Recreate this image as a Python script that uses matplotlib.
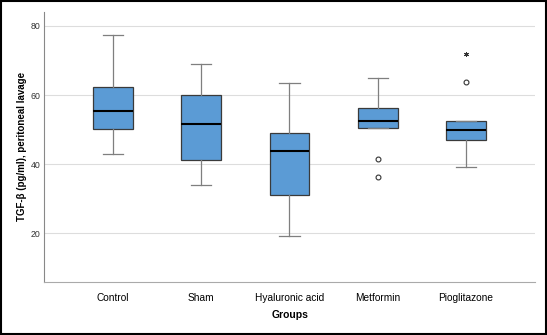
import matplotlib
matplotlib.use("Agg")
import matplotlib.pyplot as plt
from matplotlib.patches import Rectangle

plt.rcParams["font.family"] = ["Liberation Sans", "DejaVu Sans"]

# values
groups = ["Control", "Sham", "Hyaluronic acid", "Metformin", "Pioglitazone"]
whisker_low = [43.0, 34.0, 19.3, 50.6, 39.1]
q1 = [50.2, 41.3, 31.2, 50.6, 47.0]
median = [55.5, 51.7, 43.9, 52.6, 50.0]
q3 = [62.4, 59.9, 49.1, 56.3, 52.4]
whisker_high = [77.5, 69.1, 63.4, 65.0, 52.4]
outliers = [[], [], [], [41.6, 36.2], [63.7]]
extremes = [[], [], [], [], [72.0]]
yticks = [20, 40, 60, 80]

stats = []
for i, g in enumerate(groups):
    stats.append({
        "label": g,
        "whislo": whisker_low[i],
        "q1": q1[i],
        "med": median[i],
        "q3": q3[i],
        "whishi": whisker_high[i],
        "fliers": outliers[i],
    })

fig = plt.figure(figsize=(5.47, 3.35), dpi=100)
ax = fig.add_axes([0.081, 0.159, 0.897, 0.805])

positions = list(range(len(groups)))
ax.bxp(
    stats, positions=positions, widths=0.45, patch_artist=True,
    boxprops=dict(facecolor="#5b9bd5", edgecolor="#3a3a3a", linewidth=0.9),
    medianprops=dict(color="black", linewidth=1.5),
    whiskerprops=dict(color="#7f7f7f", linewidth=0.9),
    capprops=dict(color="#7f7f7f", linewidth=0.9),
    capwidths=0.23,
    flierprops=dict(marker="o", markersize=3.5, markerfacecolor="white",
                    markeredgecolor="#333333", markeredgewidth=0.8),
    zorder=3,
)

# extreme values drawn as small asterisks
for i, vals in enumerate(extremes):
    if vals:
        ax.plot([positions[i]] * len(vals), vals, linestyle="none", marker=(6, 2, 0),
                markersize=3.5, markeredgewidth=0.7, color="#333333", zorder=3)

ax.set_xlim(-0.775, 4.78)
ax.set_ylim(6, 84)
ax.set_yticks(yticks)
ax.set_xticks(positions)
ax.set_xticklabels(groups, fontsize=7.3)
ax.tick_params(axis="y", labelsize=6.3, length=0, pad=3, colors="#333333")
ax.tick_params(axis="x", length=0, pad=8)
ax.yaxis.grid(True, color="#dddddd", linewidth=0.8, zorder=0)
ax.set_axisbelow(True)

for side in ["top", "right"]:
    ax.spines[side].set_visible(False)
ax.spines["left"].set_color("#888888")
ax.spines["bottom"].set_color("#aaaaaa")

ax.set_ylabel("TGF-β (pg/ml), peritoneal lavage", fontsize=7.0,
              fontweight="bold", labelpad=2)
ax.set_xlabel("Groups", fontsize=7.5, fontweight="bold", labelpad=5)

# outer frame
fig.patches.append(Rectangle((0.002, 0.003), 0.996, 0.994, transform=fig.transFigure,
                             fill=False, edgecolor="black", linewidth=1.5))

fig.savefig("out.png", dpi=100)
plt.close(fig)
